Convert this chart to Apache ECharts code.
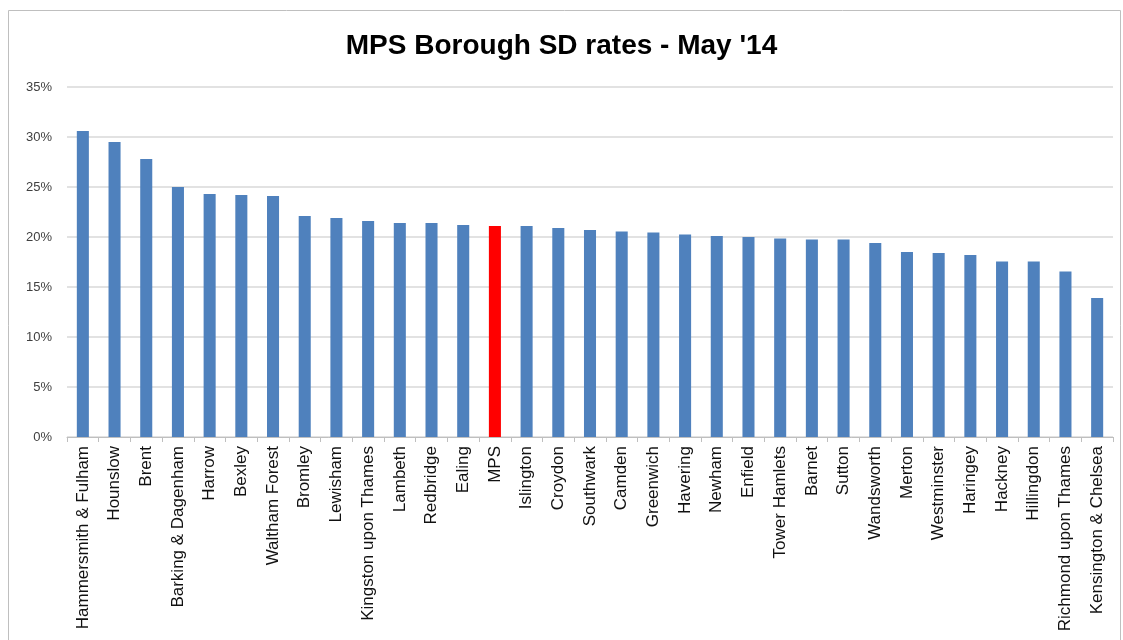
<!DOCTYPE html>
<html><head><meta charset="utf-8">
<script src="https://cdn.jsdelivr.net/npm/echarts@6/dist/echarts.min.js"></script>
<style>html,body{margin:0;padding:0;background:#fff}#c{width:1123px;height:640px}</style>
</head><body><div id="c"></div>
<script>
const categories = ["Hammersmith & Fulham","Hounslow","Brent","Barking & Dagenham","Harrow","Bexley","Waltham Forest","Bromley","Lewisham","Kingston upon Thames","Lambeth","Redbridge","Ealing","MPS","Islington","Croydon","Southwark","Camden","Greenwich","Havering","Newham","Enfield","Tower Hamlets","Barnet","Sutton","Wandsworth","Merton","Westminster","Haringey","Hackney","Hillingdon","Richmond upon Thames","Kensington & Chelsea"];
const rates = [30.6,29.5,27.8,25.0,24.3,24.2,24.1,22.1,21.9,21.6,21.4,21.4,21.2,21.1,21.1,20.9,20.7,20.55,20.45,20.25,20.1,20.0,19.85,19.75,19.75,19.4,18.5,18.4,18.2,17.55,17.55,16.55,13.9];
const highlight = "MPS";
const yTicks = [0,5,10,15,20,25,30,35];

const font = "'Liberation Sans Narrow','Liberation Sans',sans-serif";
const chart = echarts.init(document.getElementById('c'));
chart.setOption({
  animation:false,
  backgroundColor:'#fff',
  graphic:[{type:'rect',shape:{x:8.5,y:10.5,width:1112,height:640},style:{fill:'none',stroke:'#BFBFBF',lineWidth:1},silent:true}],
  title:{text:"MPS Borough SD rates - May '14",left:'center',top:27,
    textStyle:{fontFamily:font,fontWeight:'bold',fontSize:28,color:'#000'}},
  grid:{left:67,right:10,top:87,height:350,containLabel:false},
  xAxis:{type:'category',data:categories,
    axisLine:{lineStyle:{color:'#BFBFBF'}},
    axisTick:{show:true,alignWithLabel:false,length:5,lineStyle:{color:'#BFBFBF'}},
    axisLabel:{rotate:90,interval:0,fontFamily:font,fontSize:17,color:'#111',margin:9}},
  yAxis:{type:'value',min:0,max:35,interval:5,
    axisLine:{show:false},axisTick:{show:false},
    splitLine:{lineStyle:{color:'#D9D9D9',width:1.5}},
    axisLabel:{formatter:v=>yTicks.includes(v)?v+'%':'',fontFamily:font,fontSize:13,color:'#404040',margin:15}},
  series:[{type:'bar',barWidth:'38%',
    data:rates.map((v,i)=>({value:v,itemStyle:{color:categories[i]===highlight?'#FF0000':'#4F81BD'}}))}]
});
</script></body></html>
